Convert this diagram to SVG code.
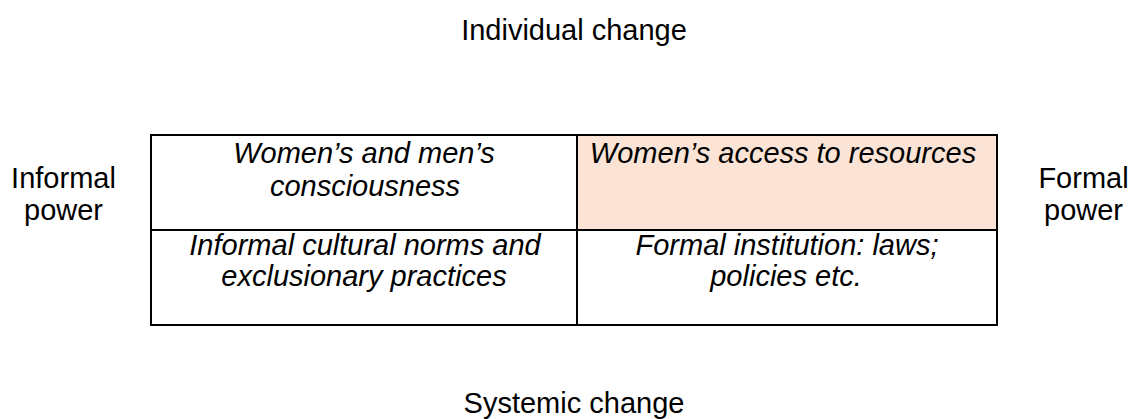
<svg xmlns="http://www.w3.org/2000/svg" width="1136" height="419" viewBox="0 0 1136 419">
<style>
text{font-family:"Liberation Sans",Arial,sans-serif;font-size:29px;fill:#000;text-anchor:middle}
.it{font-style:italic}
.grid{stroke:#000;stroke-width:2;fill:none}
</style>
<rect width="1136" height="419" fill="#fff"/>
<g id="label-individual"><text x="574" y="40">Individual change</text></g>
<g id="label-systemic"><text x="574" y="413">Systemic change</text></g>
<g id="label-informal"><text x="63.5" y="188">Informal</text><text x="63.5" y="220">power</text></g>
<g id="label-formal"><text x="1083.5" y="188">Formal</text><text x="1083.5" y="220">power</text></g>
<g id="cell-consciousness"><rect x="151" y="135" width="426" height="95" fill="#fff"/><text class="it" x="364" y="163">Women’s and men’s</text><text class="it" x="365" y="195.5">consciousness</text></g>
<g id="cell-resources"><rect x="577" y="135" width="420" height="95" fill="#FBE4D5"/><text class="it" x="783" y="163">Women’s access to resources</text></g>
<g id="cell-norms"><rect x="151" y="230" width="426" height="95" fill="#fff"/><text class="it" x="365" y="254.5">Informal cultural norms and</text><text class="it" x="364" y="285.5">exclusionary practices</text></g>
<g id="cell-institutions"><rect x="577" y="230" width="420" height="95" fill="#fff"/><text class="it" x="787" y="254.5">Formal institution: laws;</text><text class="it" x="786" y="285.5">policies etc.</text></g>
<g id="connectors"><rect class="grid" x="151" y="135" width="846" height="190"/><line class="grid" x1="577" y1="135" x2="577" y2="325"/><line class="grid" x1="151" y1="230" x2="997" y2="230"/></g>
</svg>
